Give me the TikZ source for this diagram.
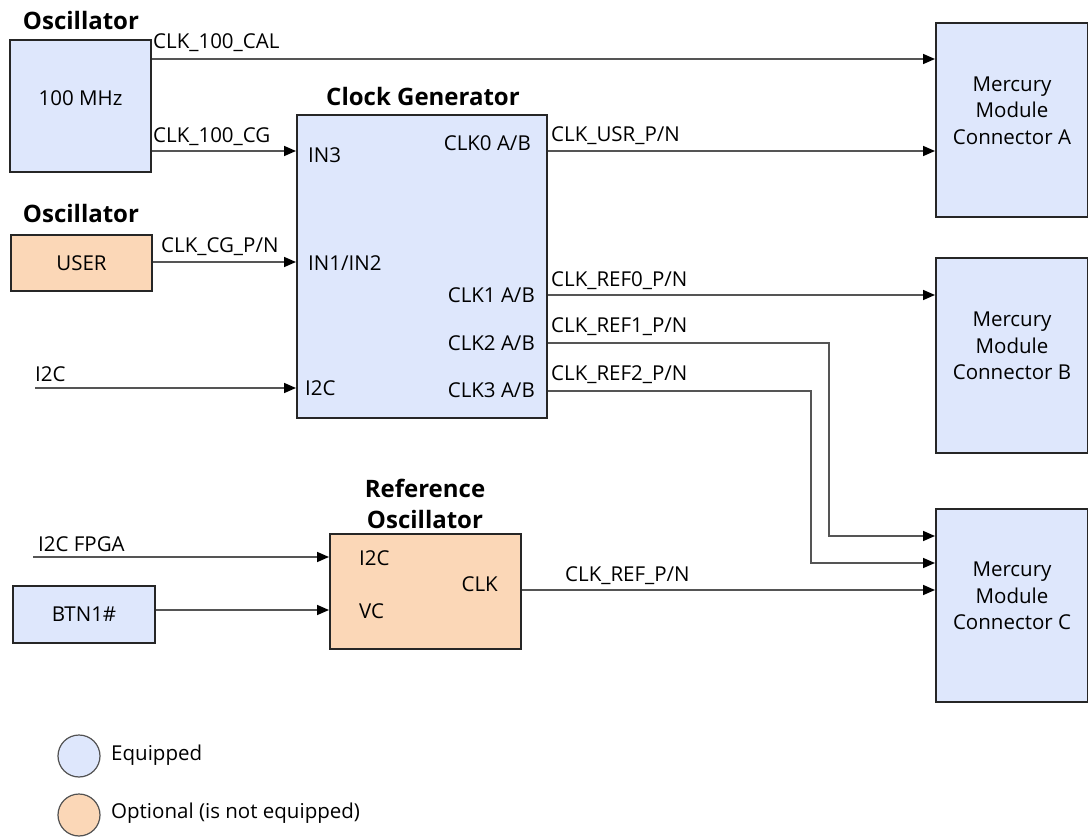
\documentclass[tikz,border=0pt]{standalone}
\usepackage{fontspec}
\setmainfont{Open Sans}
\usetikzlibrary{arrows.meta}
\definecolor{eqblue}{RGB}{222,231,252}
\definecolor{optorange}{RGB}{251,215,183}
\definecolor{edgecol}{RGB}{38,38,38}
\definecolor{wirecol}{RGB}{85,85,85}
\begin{document}
\begin{tikzpicture}[x=1pt,y=-1pt,
  font=\fontsize{20.5}{25}\selectfont,
  box/.style={draw=edgecol, line width=2pt, inner sep=0pt, anchor=north west, align=center},
  bluebox/.style={box, fill=eqblue},
  orangebox/.style={box, fill=optorange},
  conbox/.style={bluebox, font=\fontsize{20.5}{26.5}\selectfont, text depth=19pt},
  title/.style={font=\fontsize{24}{31}\selectfont\bfseries, inner sep=0pt, align=center},
  lbl/.style={inner sep=0pt, anchor=west},
  rlbl/.style={inner sep=0pt, anchor=east},
  wire/.style={draw=wirecol, line width=1.6pt, -{Triangle[length=12pt,width=10pt,fill=black,color=black]}},
  legcirc/.style={circle, draw=edgecol!80, line width=1.2pt, minimum size=42pt, inner sep=0pt}
]
\useasboundingbox (0,0) rectangle (1088,837);

% boxes
\node[bluebox, minimum width=141pt, minimum height=132pt, text depth=15pt] (osc) at (9,39) {100 MHz};
\node[title] (osctitle) at (81,21) {Oscillator};
\node[orangebox, minimum width=141pt, minimum height=56pt] (user) at (10,234) {USER};
\node[title] (usertitle) at (81,214) {Oscillator};
\node[bluebox, minimum width=250pt, minimum height=303pt] (cg) at (296,114) {};
\node[title] (cgtitle) at (423,97) {Clock Generator};
\node[orangebox, minimum width=191pt, minimum height=115pt] (ref) at (329,533) {};
\node[title] (reftitle) at (425,504) {Reference\\Oscillator};
\node[bluebox, minimum width=142pt, minimum height=57pt] (btn) at (12,585) {BTN1\#};
\node[conbox, minimum width=152pt, minimum height=194pt] (conA) at (935,22) {Mercury\\Module\\Connector A};
\node[conbox, minimum width=152pt, minimum height=195pt] (conB) at (935,257) {Mercury\\Module\\Connector B};
\node[conbox, minimum width=152pt, minimum height=193pt] (conC) at (935,508) {Mercury\\Module\\Connector C};

% port labels
\node[lbl] (pin3) at (308,155) {IN3};
\node[lbl] (pin12) at (308,263) {IN1/IN2};
\node[lbl] (pi2c) at (305,388) {I2C};
\node[rlbl] (pclk0) at (531,143) {CLK0 A/B};
\node[rlbl] (pclk1) at (535,295) {CLK1 A/B};
\node[rlbl] (pclk2) at (535,343) {CLK2 A/B};
\node[rlbl] (pclk3) at (535,390) {CLK3 A/B};
\node[lbl] (ri2c) at (359,558) {I2C};
\node[lbl] (rvc) at (359,611) {VC};
\node[rlbl] (rclk) at (498,584) {CLK};

% free ends
\coordinate (i2cin) at (35,388);
\coordinate (i2cfpga) at (33,557);
\coordinate (bend1) at (829,343);
\coordinate (bend2) at (811,391);

% connectors
\draw[wire] (osc.east |- 0,59) -- (conA.west |- 0,59);
\node[lbl] (l1) at (153,43) {CLK\_100\_CAL};
\draw[wire] (osc.east |- 0,151) -- (cg.west |- 0,151);
\node[lbl] (l2) at (153,137) {CLK\_100\_CG};
\draw[wire] (user.east |- 0,262) -- (cg.west |- 0,262);
\node[lbl] (l3) at (161,247) {CLK\_CG\_P/N};
\draw[wire] (i2cin) -- (cg.west |- i2cin);
\node[lbl] (l4) at (35,374) {I2C};
\draw[wire] (cg.east |- 0,151) -- (conA.west |- 0,151);
\node[lbl] (l5) at (551,136) {CLK\_USR\_P/N};
\draw[wire] (cg.east |- 0,295) -- (conB.west |- 0,295);
\node[lbl] (l6) at (551,281) {CLK\_REF0\_P/N};
\draw[wire] (cg.east |- bend1) -- (bend1) -- (bend1 |- 0,536) -- (conC.west |- 0,536);
\node[lbl] (l7) at (551,327) {CLK\_REF1\_P/N};
\draw[wire] (cg.east |- bend2) -- (bend2) -- (bend2 |- 0,563) -- (conC.west |- 0,563);
\node[lbl] (l8) at (551,375) {CLK\_REF2\_P/N};
\draw[wire] (i2cfpga) -- (ref.west |- i2cfpga);
\node[lbl] (l9) at (38,544) {I2C FPGA};
\draw[wire] (btn.east |- 0,610) -- (ref.west |- 0,610);
\draw[wire] (ref.east |- 0,590) -- (conC.west |- 0,590);
\node[lbl] (l10) at (565,576) {CLK\_REF\_P/N};

% legend
\node[legcirc, fill=eqblue] (leg1) at (79,756) {};
\node[lbl] (leg1t) at (111,755) {Equipped};
\node[legcirc, fill=optorange] (leg2) at (79,815) {};
\node[lbl] (leg2t) at (111,813) {Optional (is not equipped)};
\end{tikzpicture}
\end{document}
